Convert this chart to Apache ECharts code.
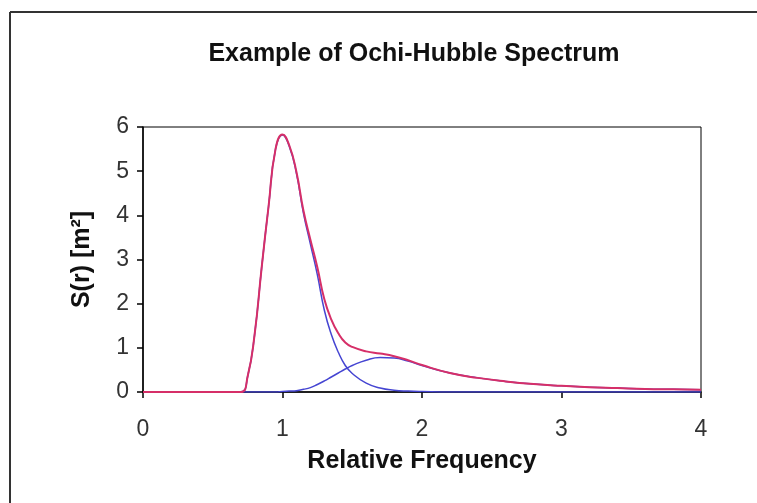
<!DOCTYPE html>
<html>
<head>
<meta charset="utf-8">
<script src="https://cdn.jsdelivr.net/npm/echarts@6/dist/echarts.min.js"></script>
<style>html,body{margin:0;padding:0;background:#fff;}#c{width:757px;height:503px;}</style>
</head>
<body>
<div id="c"></div>
<script>
// Relative frequency sample positions
const freq = [0, 0.5, 0.7, 0.75, 0.8, 0.85, 0.9, 0.95, 1.0, 1.05, 1.1, 1.15, 1.2, 1.25, 1.3, 1.35, 1.4, 1.45, 1.5, 1.6, 1.7, 1.8, 1.9, 2.0, 2.2, 2.4, 2.6, 2.8, 3.0, 3.2, 3.4, 3.6, 3.8, 4.0];
// Primary (wind sea) component
const primary = [0, 0, 0, 0.35, 1.3, 2.8, 4.2, 5.5, 5.82, 5.55, 4.95, 4.05, 3.35, 2.65, 1.85, 1.3, 0.9, 0.6, 0.42, 0.2, 0.09, 0.04, 0.02, 0.01, 0, 0, 0, 0, 0, 0, 0, 0, 0, 0];
// Secondary (swell) component
const secondary = [0, 0, 0, 0, 0, 0, 0, 0, 0.01, 0.02, 0.03, 0.06, 0.1, 0.17, 0.25, 0.34, 0.43, 0.52, 0.6, 0.72, 0.78, 0.77, 0.7, 0.6, 0.43, 0.32, 0.24, 0.18, 0.14, 0.11, 0.09, 0.07, 0.06, 0.05];
// Total spectrum
const total = [0, 0, 0, 0.35, 1.3, 2.8, 4.2, 5.5, 5.83, 5.57, 4.98, 4.11, 3.45, 2.82, 2.1, 1.64, 1.33, 1.12, 1.02, 0.92, 0.87, 0.81, 0.72, 0.61, 0.43, 0.32, 0.24, 0.18, 0.14, 0.11, 0.09, 0.07, 0.06, 0.05];

const xTicks = [0, 1, 2, 3, 4];
const yTicks = [0, 1, 2, 3, 4, 5, 6];
const titleText = 'Example of Ochi-Hubble Spectrum';
const xName = 'Relative Frequency';
const yName = 'S(r) [m\u00B2]';

const pairs = (ys) => freq.map((x, i) => [x, ys[i]]);
const font = '"Liberation Sans", Arial, sans-serif';

const chart = echarts.init(document.getElementById('c'), null, {renderer: 'canvas'});
chart.setOption({
  backgroundColor: '#fff',
  animation: false,
  title: {
    text: titleText,
    left: 409,
    textAlign: 'center',
    top: 37,
    textStyle: {fontFamily: font, fontSize: 25, fontWeight: 'bold', color: '#111'}
  },
  graphic: [
    {type: 'line', shape: {x1: 10, y1: 12, x2: 757, y2: 12}, style: {stroke: '#333', lineWidth: 2}},
    {type: 'line', shape: {x1: 10, y1: 12, x2: 10, y2: 503}, style: {stroke: '#333', lineWidth: 2}}
  ],
  grid: {left: 143, top: 127, width: 558, height: 265, show: true, borderColor: '#000', borderWidth: 1, backgroundColor: 'transparent'},
  xAxis: {
    type: 'value', min: xTicks[0], max: xTicks[xTicks.length - 1], interval: 1,
    name: xName, nameLocation: 'middle', nameGap: 57,
    nameTextStyle: {fontFamily: font, fontSize: 25, fontWeight: 'bold', color: '#111'},
    axisLine: {show: true, onZero: false, lineStyle: {color: '#000', width: 1.5}},
    axisTick: {show: true, inside: false, length: 6, lineStyle: {color: '#000', width: 1.5}},
    axisLabel: {margin: 26, fontFamily: font, fontSize: 23, color: '#333'},
    splitLine: {show: false}
  },
  yAxis: {
    type: 'value', min: yTicks[0], max: yTicks[yTicks.length - 1], interval: 1,
    name: yName, nameLocation: 'middle', nameGap: 48, nameRotate: 90,
    nameTextStyle: {fontFamily: font, fontSize: 25, fontWeight: 'bold', color: '#111'},
    axisLine: {show: true, lineStyle: {color: '#000', width: 1.5}},
    axisTick: {show: true, inside: false, length: 6, lineStyle: {color: '#000', width: 1.5}},
    axisLabel: {margin: 14, fontFamily: font, fontSize: 23, color: '#333'},
    splitLine: {show: false}
  },
  series: [
    {name: 'Primary', type: 'line', data: pairs(primary), smooth: 0.5, showSymbol: false, clip: true,
     lineStyle: {color: '#4545d2', width: 1.5}, z: 2},
    {name: 'Secondary', type: 'line', data: pairs(secondary), smooth: 0.5, showSymbol: false, clip: true,
     lineStyle: {color: '#4545d2', width: 1.5}, z: 2},
    {name: 'Total', type: 'line', data: pairs(total), smooth: 0.5, showSymbol: false, clip: true,
     lineStyle: {color: '#d62f68', width: 2}, z: 3}
  ]
});
</script>
</body>
</html>
